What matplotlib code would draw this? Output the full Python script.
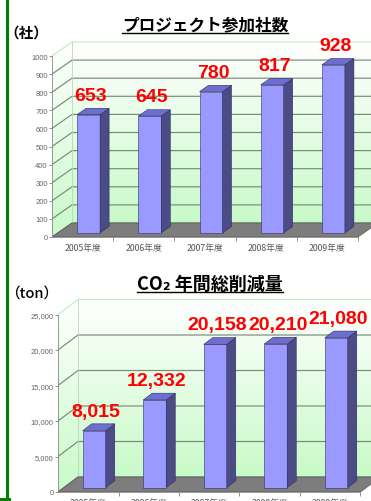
import matplotlib.pyplot as plt
from matplotlib.patches import Polygon
from matplotlib.lines import Line2D
from matplotlib.colors import LinearSegmentedColormap
import numpy as np

years = ['2005年度', '2006年度', '2007年度', '2008年度', '2009年度']
companies = [653, 645, 780, 817, 928]
co2_tons = [8015, 12332, 20158, 20210, 21080]
company_ticks = list(range(0, 1001, 100))
co2_ticks = list(range(0, 25001, 5000))

W, H, DPI = 371, 502, 100

plt.rcParams['font.family'] = ['Noto Sans CJK JP', 'DejaVu Sans']

fig = plt.figure(figsize=(W / DPI, H / DPI), dpi=DPI)
fig.patch.set_facecolor('white')

wall_cmap = LinearSegmentedColormap.from_list('wall', ['#c8fac8', '#ffffff'])
BAR_FRONT = '#9999ff'
BAR_TOP = '#6e6ed0'
BAR_SIDE = '#4b4b86'
BAR_EDGE = '#2e2e5c'


def px_axes(left, top, right, bottom):
    # pixel box measured from the top-left corner -> figure fraction
    return fig.add_axes([left / W, 1 - bottom / H, (right - left) / W, (bottom - top) / H])


def draw_chart(ax, values, ticks, tick_labels, cat_px, unit_px, depth_px):
    n = len(values)
    top_v = ticks[-1]
    pos = ax.get_position()
    x0 = -0.5
    x1 = x0 + pos.width * W / cat_px
    y1 = pos.height * H / unit_px
    dx = depth_px[0] / cat_px
    dy = depth_px[1] / unit_px
    grad = np.linspace(0, 1, 256).reshape(-1, 1)

    # back wall
    ax.imshow(grad, extent=[x0 + dx, x1 + 1, dy, top_v + dy], origin='lower',
              cmap=wall_cmap, aspect='auto', zorder=0, interpolation='bilinear')
    # left wall
    im = ax.imshow(grad, extent=[x0, x0 + dx, 0, top_v + dy], origin='lower',
                   cmap=wall_cmap, aspect='auto', zorder=0, interpolation='bilinear')
    left_wall = Polygon([(x0, 0), (x0, top_v), (x0 + dx, top_v + dy), (x0 + dx, dy)],
                        closed=True, transform=ax.transData)
    im.set_clip_path(left_wall)

    # gridlines
    for t in ticks[:-1]:
        ax.plot([x0, x0 + dx, x1 + 1], [t, t + dy, t + dy], color='#7a8a7a', lw=0.85, zorder=1)
    ax.plot([x0, x0 + dx, x1 + 1], [top_v, top_v + dy, top_v + dy], color='#c0ecc0', lw=0.8, zorder=1)
    ax.plot([x0 + dx, x0 + dx], [dy, top_v + dy], color='#b8d8b8', lw=0.6, zorder=1)

    # floor
    ax.add_patch(Polygon([(x0, 0), (x0 + n, 0), (x0 + n + dx, dy), (x0 + dx, dy)],
                         closed=True, fc='#7d7d7d', ec='#555555', lw=0.5, zorder=2))

    # bars
    bw = 23 / cat_px
    bx = np.arange(n) + 0.3 * dx
    b0 = 0.3 * dy
    ddx, ddy = 0.45 * dx, 0.45 * dy
    ax.bar(bx, values, width=bw, bottom=b0, color=BAR_FRONT, edgecolor=BAR_EDGE,
           linewidth=0.4, zorder=3)
    for xc, v in zip(bx, values):
        l, r, top = xc - bw / 2, xc + bw / 2, b0 + v
        ax.add_patch(Polygon([(r, b0), (r, top), (r + ddx, top + ddy), (r + ddx, b0 + ddy)],
                             closed=True, fc=BAR_SIDE, ec=BAR_EDGE, lw=0.4, zorder=3))
        ax.add_patch(Polygon([(l, top), (r, top), (r + ddx, top + ddy), (l + ddx, top + ddy)],
                             closed=True, fc=BAR_TOP, ec=BAR_EDGE, lw=0.4, zorder=3))
        ax.annotate(f'{v:,}', (xc + 0.1 * dx, top), xytext=(0, 14), textcoords='offset points',
                    ha='center', va='center', color='#ff0000', fontsize=14,
                    fontweight='bold', family='Liberation Sans', zorder=5)

    # axes
    ax.set_xlim(x0, x1)
    ax.set_ylim(0, y1)
    ax.set_facecolor('none')
    for s in ['top', 'right']:
        ax.spines[s].set_visible(False)
    ax.spines['left'].set_bounds(0, top_v)
    ax.spines['bottom'].set_bounds(x0, x0 + n)
    for s in ['left', 'bottom']:
        ax.spines[s].set_color('#888888')
        ax.spines[s].set_linewidth(0.6)
    ax.set_yticks(ticks)
    ax.set_yticklabels(tick_labels, fontsize=5.5, color='#666666', family='Liberation Sans')
    ax.tick_params(axis='y', length=2, width=0.5, color='#666666', pad=1)
    ax.set_xticks(range(n))
    ax.set_xticklabels(years, fontsize=6.3, color='#555555')
    ax.set_xticks([x0 + k for k in range(1, n + 1)], minor=True)
    ax.tick_params(axis='x', which='major', length=0, pad=4)
    ax.tick_params(axis='x', which='minor', length=3, width=0.5, color='#666666')


ax1 = px_axes(52, 40, 371, 238)
draw_chart(ax1, companies, company_ticks, [str(t) for t in company_ticks],
           cat_px=61.2, unit_px=0.181, depth_px=(20, 14))

ax2 = px_axes(58, 295, 371, 493)
draw_chart(ax2, co2_tons, co2_ticks, [f'{t:,}' for t in co2_ticks],
           cat_px=60.5, unit_px=0.0071, depth_px=(20, 15))

# titles and units
t1 = fig.text(205 / W, 1 - 25 / H, 'プロジェクト参加社数', ha='center', va='center',
              fontsize=12, fontweight='bold')
t2 = fig.text(210 / W, 1 - 284 / H, 'CO₂ 年間総削減量', ha='center', va='center',
              fontsize=13, fontweight='bold')
fig.text(4 / W, 1 - 33 / H, '（社）', ha='left', va='center', fontsize=10.5, fontweight='bold')
fig.text(5 / W, 1 - 294 / H, '（ton）', ha='left', va='center', fontsize=10.5, fontweight='medium')

fig.canvas.draw()
for t, y_px in [(t1, 34), (t2, 293)]:
    bb = t.get_window_extent()
    fig.add_artist(Line2D([bb.x0 / W, bb.x1 / W], [1 - y_px / H] * 2, color='black', lw=1))

# green frame on the left
fig.add_artist(Line2D([7.5 / W, 7.5 / W], [1, 2 / H], color='#008000', lw=2.2))
fig.add_artist(Line2D([0, 9 / W], [2 / H, 2 / H], color='#008000', lw=2.2))

fig.savefig('out.png', dpi=DPI)
